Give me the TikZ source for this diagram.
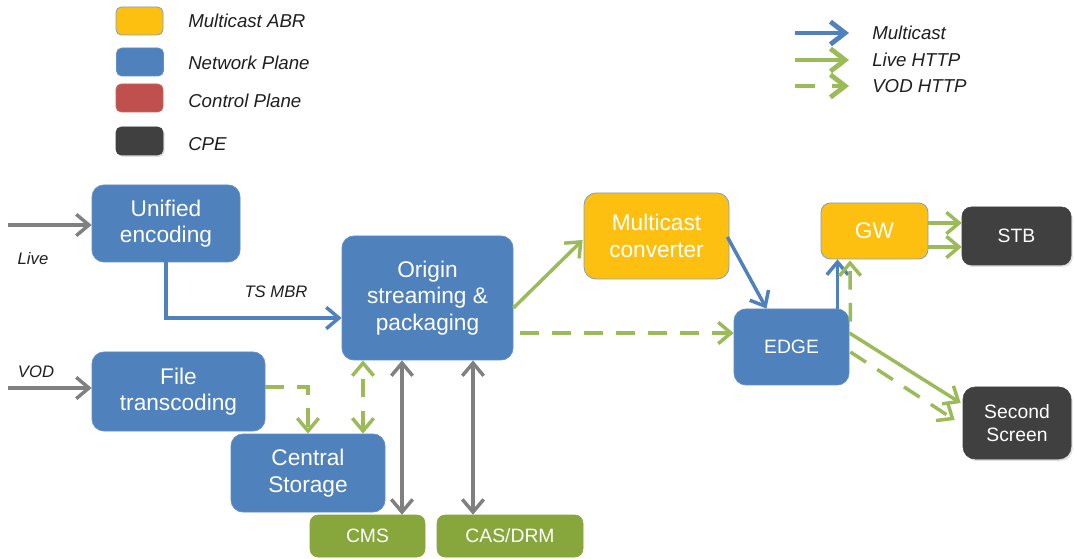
\documentclass[tikz,border=0pt]{standalone}
\usepackage{fontspec}
\setmainfont{Liberation Sans}
\usetikzlibrary{arrows.meta,shadows}

\definecolor{netblue}{HTML}{4F81BD}
\definecolor{abryellow}{HTML}{FDC010}
\definecolor{ctrlred}{HTML}{C0504D}
\definecolor{cpegray}{HTML}{404040}
\definecolor{httpgreen}{HTML}{9BBB59}
\definecolor{mgmtgreen}{HTML}{87A63B}
\definecolor{linkgray}{HTML}{808080}
\definecolor{labeltext}{HTML}{1F1F1F}

\tikzset{
  box/.style={rounded corners=9pt, inner sep=2pt, align=center, text=white,
    font=\fontsize{17}{20}\selectfont},
  smallbox/.style={box, font=\fontsize{14.5}{17.5}\selectfont},
  network/.style={fill=netblue, draw=netblue!90!white, line width=0.6pt},
  abr/.style={fill=abryellow, draw=netblue!75, line width=0.6pt},
  cpe/.style={fill=cpegray, draw=cpegray, drop shadow={shadow xshift=1.2pt, shadow yshift=-1.5pt, opacity=0.25}},
  mgmt/.style={fill=mgmtgreen, draw=mgmtgreen},
  swatch/.style={rounded corners=4pt, minimum width=35.25pt, minimum height=21pt, inner sep=0pt, line width=0.6pt},
  legtext/.style={anchor=west, font=\fontsize{14}{16}\selectfont\itshape, text=labeltext, inner sep=0pt},
  smalltext/.style={font=\fontsize{12.5}{15}\selectfont\itshape, text=labeltext, inner sep=0pt},
  tip/.style={-{Straight Barb[length=9.5pt,width=16pt]}},
  dtip/.style={{Straight Barb[length=9.5pt,width=16pt]}-{Straight Barb[length=9.5pt,width=16pt]}},
  link/.style={line width=2.6pt},
  mcast/.style={link, tip, draw=netblue},
  live/.style={link, tip, draw=httpgreen},
  vod/.style={link, tip, draw=httpgreen, dash pattern=on 14pt off 10pt},
  input/.style={link, tip, draw=linkgray},
  legarrow/.style={line width=3.6pt, -{Straight Barb[length=11pt,width=17pt]}},
}

\begin{document}
\begin{tikzpicture}[x=0.75pt, y=-0.75pt]
\useasboundingbox[fill=white] (0,0) rectangle (1074,559);

% ---- colour legend
\node[swatch, abr]                 (swabr)  at (139.5,21)  {};
\node[swatch, network]             (swnet)  at (140,62)    {};
\node[swatch, fill=ctrlred, draw=ctrlred!90!white] (swctrl) at (139.5,98) {};
\node[swatch, cpe]                 (swcpe)  at (139.5,141) {};
\node[legtext] (labr)  at (188,21)  {Multicast ABR};
\node[legtext] (lnet)  at (188,63)  {Network Plane};
\node[legtext] (lctrl) at (188,101) {Control Plane};
\node[legtext] (lcpe)  at (188,144) {CPE};

% ---- link legend
\coordinate (mA) at (795,33);  \coordinate (mB) at (849,33);
\coordinate (lA) at (795,60);  \coordinate (lB) at (849,60);
\coordinate (vA) at (795,86);  \coordinate (vB) at (849,86);
\draw[legarrow, netblue]   (mA) -- (mB);
\draw[legarrow, httpgreen] (lA) -- (lB);
\draw[legarrow, httpgreen, dash pattern=on 15pt off 13pt] (vA) -- (vB);
\node[legtext] (lmc)  at (872,33) {Multicast};
\node[legtext] (llh)  at (872,60) {Live HTTP};
\node[legtext] (lvh)  at (872,86) {VOD HTTP};

% ---- head end
\node[box, network, minimum width=111pt,    minimum height=57.75pt] (unified) at (166,223.5) {Unified\\encoding};
\node[box, network, minimum width=129.75pt, minimum height=59.25pt] (file)    at (178.5,391.5) {File\\transcoding};
\node[box, network, minimum width=115.5pt,  minimum height=58.5pt]  (central) at (308,473) {Central\\Storage};
\node[box, network, minimum width=128.25pt, minimum height=93pt]    (origin)  at (427.5,298) {Origin\\streaming \&\\packaging};
\node[smallbox, mgmt, minimum width=86.25pt, minimum height=31.5pt, rounded corners=6pt] (cms) at (367.5,536) {CMS};
\node[smallbox, mgmt, minimum width=109.5pt, minimum height=31.5pt, rounded corners=6pt] (cas) at (510,536) {CAS/DRM};

% ---- distribution and home
\node[box, abr, minimum width=108.75pt, minimum height=64.5pt] (mcc)  at (656.5,236) {Multicast\\converter};
\node[smallbox, network, minimum width=86.25pt, minimum height=57pt] (edge) at (791.5,347) {EDGE};
\node[box, abr, minimum width=80.25pt, minimum height=42pt, rounded corners=7pt] (gw) at (874.5,231) {GW};
\node[smallbox, cpe, minimum width=81.75pt, minimum height=43.5pt, rounded corners=7pt] (stb) at (1016.5,236) {STB};
\node[smallbox, cpe, minimum width=81pt, minimum height=54pt] (second) at (1017,423) {Second\\Screen};

% ---- inputs
\coordinate (livein) at (8,225);
\coordinate (vodin)  at (8,388);
\draw[input] (livein) -- (livein -| unified.west);
\draw[input] (vodin) -- (vodin -| file.west);
\node[smalltext] (livelbl) at (33,259) {Live};
\node[smalltext] (vodlbl)  at (36,372) {VOD};

% ---- head-end links
\draw[mcast, rounded corners=0pt] (unified.south) |- ([shift={(0,20)}]origin.west);
\node[smalltext] (tsmbr) at (276,292) {TS MBR};
\draw[vod] ([shift={(0,-4.5)}]file.east) -| (central.north);
\draw[vod, dtip] ([shift={(55,0)}]central.north) -- ([shift={(-64.5,0)}]origin.south);
\draw[link, dtip, draw=linkgray] ([shift={(-25.5,0)}]origin.south) -- ([shift={(34.5,0)}]cms.north);
\draw[link, dtip, draw=linkgray] ([shift={(45.5,0)}]origin.south) -- ([shift={(-37,0)}]cas.north);

% ---- distribution links
\draw[live] ([shift={(0,10)}]origin.east) -- ([shift={(-1,4)}]mcc.west);
\draw[vod]  ([shift={(7,35)}]origin.east) -- ([shift={(0,-14)}]edge.west);
\draw[mcast] ([shift={(-2,1)}]mcc.east) -- ([shift={(-25,0)}]edge.north);
\draw[mcast] ([shift={(46,0)}]edge.north) -- ([shift={(-37,0)}]gw.south);
\draw[vod]   ([shift={(1,13)}]edge.north east) -- ([shift={(-24.5,1)}]gw.south);
\draw[live]  ([shift={(0,-8)}]gw.east) -- ([shift={(0,-13)}]stb.west);
\draw[vod, dash pattern=on 22pt off 6pt] ([shift={(0,16)}]gw.east) -- ([shift={(0,11)}]stb.west);
\draw[live]  ([shift={(0,-14)}]edge.east) -- ([shift={(-2,-20)}]second.west);
\draw[vod]   ([shift={(1,5)}]edge.east) -- ([shift={(-8,-3)}]second.west);
\end{tikzpicture}
\end{document}
